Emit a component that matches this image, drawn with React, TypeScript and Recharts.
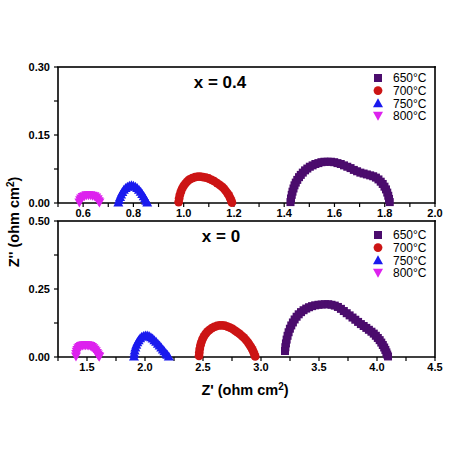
import React from 'react';
import { ScatterChart, Scatter, XAxis, YAxis, ZAxis } from 'recharts';

const FONT = '"Liberation Sans", Arial, Helvetica, sans-serif';

const tempLabels = ['650°C', '700°C', '750°C', '800°C'];
const seriesColors = ['#4b0c6d', '#cc1414', '#1a1aee', '#dd22ee'];
const markerKinds = ['square', 'circle', 'triangle', 'invtriangle'];

// ---------- Top panel (x = 0.4) ----------
const top650 = [
  { x: 1.425, y: 0.002 }, { x: 1.427, y: 0.01 }, { x: 1.43, y: 0.018 }, { x: 1.433, y: 0.025 },
  { x: 1.437, y: 0.032 }, { x: 1.441, y: 0.039 }, { x: 1.446, y: 0.045 }, { x: 1.452, y: 0.051 },
  { x: 1.459, y: 0.057 }, { x: 1.466, y: 0.062 }, { x: 1.474, y: 0.067 }, { x: 1.483, y: 0.072 },
  { x: 1.492, y: 0.076 }, { x: 1.502, y: 0.08 }, { x: 1.513, y: 0.083 }, { x: 1.524, y: 0.086 },
  { x: 1.536, y: 0.088 }, { x: 1.548, y: 0.09 }, { x: 1.56, y: 0.091 }, { x: 1.573, y: 0.091 },
  { x: 1.586, y: 0.091 }, { x: 1.599, y: 0.09 }, { x: 1.612, y: 0.088 }, { x: 1.625, y: 0.086 },
  { x: 1.638, y: 0.083 }, { x: 1.651, y: 0.08 }, { x: 1.664, y: 0.077 }, { x: 1.677, y: 0.073 },
  { x: 1.69, y: 0.07 }, { x: 1.703, y: 0.067 }, { x: 1.716, y: 0.065 }, { x: 1.729, y: 0.063 },
  { x: 1.742, y: 0.061 }, { x: 1.754, y: 0.059 }, { x: 1.765, y: 0.056 }, { x: 1.775, y: 0.052 },
  { x: 1.784, y: 0.047 }, { x: 1.792, y: 0.042 }, { x: 1.799, y: 0.036 }, { x: 1.805, y: 0.03 },
  { x: 1.81, y: 0.023 }, { x: 1.814, y: 0.016 }, { x: 1.817, y: 0.009 }, { x: 1.82, y: 0.002 },
];
const top700 = [
  { x: 0.98, y: 0.002 }, { x: 0.982, y: 0.01 }, { x: 0.985, y: 0.018 }, { x: 0.989, y: 0.025 },
  { x: 0.994, y: 0.032 }, { x: 1.0, y: 0.038 }, { x: 1.007, y: 0.043 }, { x: 1.015, y: 0.048 },
  { x: 1.024, y: 0.052 }, { x: 1.034, y: 0.055 }, { x: 1.045, y: 0.057 }, { x: 1.056, y: 0.058 },
  { x: 1.067, y: 0.058 }, { x: 1.078, y: 0.057 }, { x: 1.089, y: 0.056 }, { x: 1.1, y: 0.054 },
  { x: 1.111, y: 0.051 }, { x: 1.122, y: 0.048 }, { x: 1.133, y: 0.044 }, { x: 1.143, y: 0.04 },
  { x: 1.152, y: 0.036 }, { x: 1.16, y: 0.032 }, { x: 1.167, y: 0.027 }, { x: 1.174, y: 0.022 },
  { x: 1.18, y: 0.017 }, { x: 1.185, y: 0.011 }, { x: 1.189, y: 0.006 }, { x: 1.192, y: 0.001 },
];
const top750 = [
  { x: 0.74, y: 0.001 }, { x: 0.743, y: 0.007 }, { x: 0.747, y: 0.013 }, { x: 0.751, y: 0.019 },
  { x: 0.756, y: 0.024 }, { x: 0.762, y: 0.029 }, { x: 0.769, y: 0.033 }, { x: 0.776, y: 0.036 },
  { x: 0.784, y: 0.038 }, { x: 0.792, y: 0.039 }, { x: 0.8, y: 0.038 }, { x: 0.808, y: 0.036 },
  { x: 0.815, y: 0.033 }, { x: 0.822, y: 0.029 }, { x: 0.829, y: 0.025 }, { x: 0.835, y: 0.02 },
  { x: 0.841, y: 0.015 }, { x: 0.846, y: 0.01 }, { x: 0.851, y: 0.005 }, { x: 0.855, y: 0.001 },
];
const top800 = [
  { x: 0.585, y: 0.001 }, { x: 0.588, y: 0.006 }, { x: 0.592, y: 0.01 }, { x: 0.598, y: 0.013 },
  { x: 0.605, y: 0.015 }, { x: 0.613, y: 0.017 }, { x: 0.621, y: 0.017 }, { x: 0.629, y: 0.017 },
  { x: 0.637, y: 0.016 }, { x: 0.645, y: 0.015 }, { x: 0.652, y: 0.012 }, { x: 0.658, y: 0.008 },
  { x: 0.662, y: 0.004 }, { x: 0.665, y: 0.001 },
];

// ---------- Bottom panel (x = 0) ----------
const bot650 = [
  { x: 3.207, y: 0.022 }, { x: 3.21, y: 0.036 }, { x: 3.215, y: 0.05 }, { x: 3.221, y: 0.064 },
  { x: 3.229, y: 0.078 }, { x: 3.238, y: 0.091 }, { x: 3.249, y: 0.104 }, { x: 3.261, y: 0.116 },
  { x: 3.275, y: 0.127 }, { x: 3.29, y: 0.138 }, { x: 3.307, y: 0.148 }, { x: 3.325, y: 0.157 },
  { x: 3.345, y: 0.165 }, { x: 3.367, y: 0.172 }, { x: 3.39, y: 0.178 }, { x: 3.414, y: 0.183 },
  { x: 3.44, y: 0.187 }, { x: 3.467, y: 0.19 }, { x: 3.495, y: 0.192 }, { x: 3.523, y: 0.193 },
  { x: 3.551, y: 0.194 }, { x: 3.58, y: 0.194 }, { x: 3.608, y: 0.192 }, { x: 3.636, y: 0.189 },
  { x: 3.663, y: 0.184 }, { x: 3.689, y: 0.177 }, { x: 3.714, y: 0.169 }, { x: 3.739, y: 0.161 },
  { x: 3.764, y: 0.153 }, { x: 3.789, y: 0.145 }, { x: 3.813, y: 0.137 }, { x: 3.837, y: 0.129 },
  { x: 3.861, y: 0.121 }, { x: 3.885, y: 0.114 }, { x: 3.908, y: 0.107 }, { x: 3.93, y: 0.1 },
  { x: 3.952, y: 0.093 }, { x: 3.972, y: 0.086 }, { x: 3.99, y: 0.078 }, { x: 4.007, y: 0.07 },
  { x: 4.023, y: 0.062 }, { x: 4.037, y: 0.053 }, { x: 4.05, y: 0.044 }, { x: 4.062, y: 0.035 },
  { x: 4.072, y: 0.026 }, { x: 4.081, y: 0.017 }, { x: 4.088, y: 0.009 }, { x: 4.095, y: 0.002 },
];
const bot700 = [
  { x: 2.466, y: 0.004 }, { x: 2.468, y: 0.017 }, { x: 2.472, y: 0.03 }, { x: 2.478, y: 0.043 },
  { x: 2.486, y: 0.055 }, { x: 2.496, y: 0.066 }, { x: 2.508, y: 0.076 }, { x: 2.522, y: 0.085 },
  { x: 2.538, y: 0.093 }, { x: 2.556, y: 0.1 }, { x: 2.576, y: 0.106 }, { x: 2.597, y: 0.111 },
  { x: 2.619, y: 0.114 }, { x: 2.642, y: 0.116 }, { x: 2.665, y: 0.116 }, { x: 2.688, y: 0.115 },
  { x: 2.711, y: 0.112 }, { x: 2.733, y: 0.108 }, { x: 2.755, y: 0.103 }, { x: 2.776, y: 0.097 },
  { x: 2.796, y: 0.091 }, { x: 2.816, y: 0.085 }, { x: 2.835, y: 0.078 }, { x: 2.853, y: 0.071 },
  { x: 2.87, y: 0.063 }, { x: 2.886, y: 0.055 }, { x: 2.9, y: 0.046 }, { x: 2.913, y: 0.037 },
  { x: 2.925, y: 0.028 }, { x: 2.935, y: 0.019 }, { x: 2.943, y: 0.01 }, { x: 2.95, y: 0.002 },
];
const bot750 = [
  { x: 1.905, y: 0.002 }, { x: 1.907, y: 0.013 }, { x: 1.911, y: 0.024 }, { x: 1.917, y: 0.035 },
  { x: 1.925, y: 0.045 }, { x: 1.934, y: 0.054 }, { x: 1.945, y: 0.062 }, { x: 1.958, y: 0.069 },
  { x: 1.972, y: 0.074 }, { x: 1.987, y: 0.077 }, { x: 2.003, y: 0.079 }, { x: 2.019, y: 0.079 },
  { x: 2.035, y: 0.077 }, { x: 2.051, y: 0.073 }, { x: 2.066, y: 0.068 }, { x: 2.081, y: 0.062 },
  { x: 2.096, y: 0.056 }, { x: 2.111, y: 0.049 }, { x: 2.126, y: 0.042 }, { x: 2.14, y: 0.035 },
  { x: 2.154, y: 0.028 }, { x: 2.167, y: 0.021 }, { x: 2.18, y: 0.014 }, { x: 2.192, y: 0.008 },
  { x: 2.205, y: 0.002 },
];
const bot800 = [
  { x: 1.405, y: 0.002 }, { x: 1.407, y: 0.011 }, { x: 1.411, y: 0.019 }, { x: 1.417, y: 0.026 },
  { x: 1.425, y: 0.032 }, { x: 1.435, y: 0.037 }, { x: 1.447, y: 0.04 }, { x: 1.46, y: 0.042 },
  { x: 1.474, y: 0.043 }, { x: 1.488, y: 0.043 }, { x: 1.502, y: 0.043 }, { x: 1.516, y: 0.042 },
  { x: 1.53, y: 0.04 }, { x: 1.543, y: 0.037 }, { x: 1.555, y: 0.032 }, { x: 1.566, y: 0.027 },
  { x: 1.576, y: 0.021 }, { x: 1.585, y: 0.015 }, { x: 1.593, y: 0.009 }, { x: 1.6, y: 0.004 },
  { x: 1.606, y: 0.001 },
];

// ---------- Ticks ----------
const topXMajor = [0.6, 0.8, 1.0, 1.2, 1.4, 1.6, 1.8, 2.0];
const topXMinor = [0.5, 0.7, 0.9, 1.1, 1.3, 1.5, 1.7, 1.9];
const topYMajor = [0, 0.15, 0.3];
const topYMinor = [0.075, 0.225];
const botXMajor = [1.5, 2.0, 2.5, 3.0, 3.5, 4.0, 4.5];
const botXMinor = [1.25, 1.75, 2.25, 2.75, 3.25, 3.75, 4.25];
const botYMajor = [0, 0.25, 0.5];
const botYMinor = [0.125, 0.375];

const panelTitles = ['x = 0.4', 'x = 0'];

const merge = (a: number[], b: number[]) => [...a, ...b].sort((p, q) => p - q);
const isMajor = (list: number[], v: number) => list.some((m) => Math.abs(m - v) < 1e-9);

const makeXTick = (major: number[], digits: number) => (props: any) => {
  const { x, y, payload } = props;
  if (!isMajor(major, payload.value)) return <g />;
  return (
    <text x={x} y={y} dy="0.71em" textAnchor="middle" fontFamily={FONT} fontSize={11} fontWeight="bold" fill="#000">
      {Number(payload.value).toFixed(digits)}
    </text>
  );
};
const makeYTick = (major: number[], digits: number) => (props: any) => {
  const { x, y, payload } = props;
  if (!isMajor(major, payload.value)) return <g />;
  return (
    <text x={x} y={y} dy="0.355em" textAnchor="end" fontFamily={FONT} fontSize={11} fontWeight="bold" fill="#000">
      {Number(payload.value).toFixed(digits)}
    </text>
  );
};

function markerEl(kind: string, cx: number, cy: number, color: string, key?: string) {
  if (kind === 'square') return <rect key={key} x={cx - 4} y={cy - 4} width={8} height={8} fill={color} />;
  if (kind === 'circle') return <circle key={key} cx={cx} cy={cy} r={4.4} fill={color} />;
  if (kind === 'triangle')
    return <polygon key={key} points={`${cx - 5},${cy + 4} ${cx + 5},${cy + 4} ${cx},${cy - 5}`} fill={color} />;
  return <polygon key={key} points={`${cx - 5},${cy - 4} ${cx + 5},${cy - 4} ${cx},${cy + 5}`} fill={color} />;
}

const makeShape = (kind: string, color: string) => (props: any) => {
  const { cx, cy } = props;
  if (cx == null || cy == null) return <g />;
  return markerEl(kind, cx, cy, color);
};

const axisStroke = { stroke: '#000', strokeWidth: 1.6 };

function legendBlock(top: number) {
  return tempLabels.map((t, i) => {
    const cy = top + i * 12.6;
    return (
      <g key={t + top}>
        {markerEl(markerKinds[i], 378, cy, seriesColors[i])}
        <text x={393} y={cy} dy="0.36em" fontFamily={FONT} fontSize={12} fill="#000">
          {t}
        </text>
      </g>
    );
  });
}

function renderPanel(p: {
  height: number;
  marginTop: number;
  marginBottom: number;
  xDomain: [number, number];
  yDomain: [number, number];
  xMajor: number[];
  xMinor: number[];
  yMajor: number[];
  yMinor: number[];
  data: { x: number; y: number }[][];
  title: string;
  titleX: number;
  titleY: number;
  legendTop: number;
  extra?: React.ReactNode;
}) {
  return (
    <ScatterChart
      width={462}
      height={p.height}
      margin={{ top: p.marginTop, right: 27, bottom: p.marginBottom, left: 0 }}
    >
      <XAxis
        type="number"
        dataKey="x"
        domain={p.xDomain}
        ticks={merge(p.xMajor, p.xMinor)}
        tick={makeXTick(p.xMajor, 1)}
        tickSize={4}
        tickMargin={2}
        interval={0}
        height={20}
        axisLine={axisStroke}
        tickLine={{ stroke: '#000', strokeWidth: 1.2 }}
      />
      <YAxis
        type="number"
        dataKey="y"
        domain={p.yDomain}
        ticks={merge(p.yMajor, p.yMinor)}
        tick={makeYTick(p.yMajor, 2)}
        tickSize={4}
        tickMargin={4}
        interval={0}
        width={58}
        axisLine={axisStroke}
        tickLine={{ stroke: '#000', strokeWidth: 1.2 }}
      />
      <ZAxis range={[64, 64]} />
      {p.data.map((d, i) => (
        <Scatter
          key={'s' + i}
          name={tempLabels[i]}
          data={d}
          fill={seriesColors[i]}
          shape={makeShape(markerKinds[i], seriesColors[i])}
          isAnimationActive={false}
        />
      ))}
      <rect x={57.2} y={p.marginTop - 0.8} width={378.6} height={1.6} fill="#000" />
      <rect x={434.2} y={p.marginTop - 0.8} width={1.6} height={137.6} fill="#000" />
      <text x={p.titleX} y={p.titleY} dy="0.36em" textAnchor="middle" fontFamily={FONT} fontSize={17} fontWeight="bold" fill="#000">
        {p.title}
      </text>
      {legendBlock(p.legendTop)}
      {p.extra}
    </ScatterChart>
  );
}

export default function App() {
  const axisLabels = (
    <g>
      <text x={245} y={390} dy="0.36em" textAnchor="middle" fontFamily={FONT} fontSize={14.5} fontWeight="bold" fill="#000">
        {"Z' (ohm cm"}
        <tspan dy="-5" fontSize={10}>2</tspan>
        <tspan dy="5">)</tspan>
      </text>
      <text
        x={14}
        y={222}
        dy="0.36em"
        textAnchor="middle"
        transform="rotate(-90 14 222)"
        fontFamily={FONT}
        fontSize={14.5}
        fontWeight="bold"
        fill="#000"
      >
        {"Z'' (ohm cm"}
        <tspan dy="-5" fontSize={10}>2</tspan>
        <tspan dy="5">)</tspan>
      </text>
    </g>
  );
  return (
    <div style={{ position: 'absolute', left: 0, top: 0, width: 462, height: 462 }}>
      <div style={{ position: 'absolute', left: 0, top: 0 }}>
        {renderPanel({
          height: 223,
          marginTop: 67,
          marginBottom: 0,
          xDomain: [0.5, 2.0],
          yDomain: [0, 0.3],
          xMajor: topXMajor,
          xMinor: topXMinor,
          yMajor: topYMajor,
          yMinor: topYMinor,
          data: [top650, top700, top750, top800],
          title: panelTitles[0],
          titleX: 220,
          titleY: 82,
          legendTop: 78,
        })}
      </div>
      <div style={{ position: 'absolute', left: 0, top: 0 }}>
        {renderPanel({
          height: 462,
          marginTop: 221,
          marginBottom: 85,
          xDomain: [1.25, 4.5],
          yDomain: [0, 0.5],
          xMajor: botXMajor,
          xMinor: botXMinor,
          yMajor: botYMajor,
          yMinor: botYMinor,
          data: [bot650, bot700, bot750, bot800],
          title: panelTitles[1],
          titleX: 221,
          titleY: 236,
          legendTop: 235,
          extra: axisLabels,
        })}
      </div>
    </div>
  );
}
